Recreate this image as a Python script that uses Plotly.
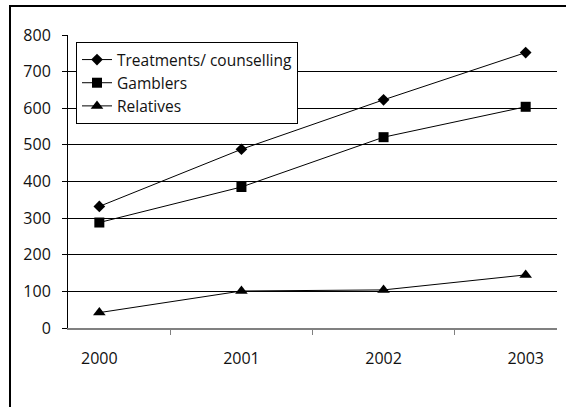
import plotly.graph_objects as go

years = ["2000", "2001", "2002", "2003"]
treatments = [332, 488, 623, 752]
gamblers = [288, 385, 521, 604]
relatives = [42, 101, 104, 145]

series = [
    ("Treatments/ counselling", treatments, "diamond", 9),
    ("Gamblers", gamblers, "square", 10),
    ("Relatives", relatives, "triangle-up", 11),
]

fig = go.Figure()
for name, vals, sym, size in series:
    fig.add_trace(go.Scatter(
        x=years, y=vals, name=name, mode="lines+markers",
        line=dict(color="black", width=1),
        marker=dict(symbol=sym, size=size, color="black"),
    ))

W, H = 566, 407
L, R, T, B = 68, 9, 35, 79
pw, ph = W - L - R, H - T - B

def px_x(x):
    return (x - L) / pw

def px_y(y):
    return (H - B - y) / ph

fig.update_layout(
    width=W, height=H,
    margin=dict(l=L, r=R, t=T, b=B),
    paper_bgcolor="white", plot_bgcolor="white",
    font=dict(family="Open Sans", size=16, color="#111"),
    showlegend=True,
    legend=dict(
        x=px_x(76), y=px_y(42), xanchor="left", yanchor="top",
        bordercolor="black", borderwidth=1, bgcolor="white",
        font=dict(size=15.5), itemwidth=30, tracegroupgap=0,
    ),
    xaxis=dict(
        type="category", showgrid=False, showline=True, linecolor="#808080",
        linewidth=1.5, ticks="outside", tickson="boundaries", ticklen=5,
        tickcolor="#808080", ticklabelstandoff=15, zeroline=False,
    ),
    yaxis=dict(
        range=[0, 800], dtick=100, showgrid=True, gridcolor="black",
        gridwidth=1, showline=True, linecolor="black", linewidth=1,
        ticks="outside", ticklen=5, tickcolor="black", zeroline=False,
        ticklabelstandoff=8,
    ),
    shapes=[dict(
        type="rect", xref="paper", yref="paper",
        x0=px_x(10), x1=px_x(575), y0=px_y(6), y1=px_y(420),
        line=dict(color="black", width=2), layer="below",
    )],
)

fig.write_html("out.html")
